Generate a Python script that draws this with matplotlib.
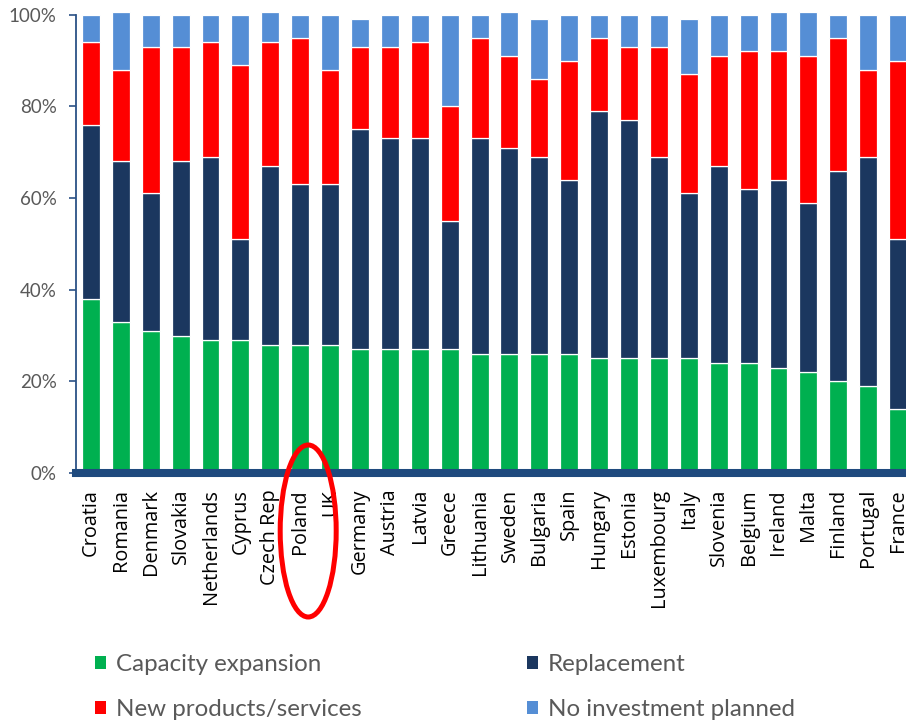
import matplotlib
matplotlib.use("Agg")
import matplotlib.pyplot as plt
from matplotlib.patches import Patch, Ellipse
from matplotlib.transforms import IdentityTransform
from matplotlib.ticker import FuncFormatter
import numpy as np

countries = ["Croatia", "Romania", "Denmark", "Slovakia", "Netherlands", "Cyprus",
             "Czech Rep", "Poland", "UK", "Germany", "Austria", "Latvia", "Greece",
             "Lithuania", "Sweden", "Bulgaria", "Spain", "Hungary", "Estonia",
             "Luxembourg", "Italy", "Slovenia", "Belgium", "Ireland", "Malta",
             "Finland", "Portugal", "France"]

capacity_expansion = [38, 33, 31, 30, 29, 29, 28, 28, 28, 27, 27, 27, 27,
                      26, 26, 26, 26, 25, 25, 25, 25, 24, 24, 23, 22, 20, 19, 14]
replacement = [38, 35, 30, 38, 40, 22, 39, 35, 35, 48, 46, 46, 28,
               47, 45, 43, 38, 54, 52, 44, 36, 43, 38, 41, 37, 46, 50, 37]
new_products = [18, 20, 32, 25, 25, 38, 27, 32, 25, 18, 20, 21, 25,
                22, 20, 17, 26, 16, 16, 24, 26, 24, 30, 28, 32, 29, 19, 39]
no_investment = [6, 12.5, 7, 7, 6, 11, 6.5, 5, 12, 6, 7, 6, 20,
                 5, 9.5, 13, 10, 5, 7, 7, 12, 9, 8, 8.5, 9.5, 5, 12, 10]

series_labels = ["Capacity expansion", "Replacement",
                 "New products/services", "No investment planned"]
series_colors = ["#00B050", "#1B375F", "#FF0000", "#558ED5"]
highlight = "Poland"

axis_blue = "#1F4A7E"
grey = "#595959"

W, H = 906, 722
fig = plt.figure(figsize=(W / 100, H / 100), dpi=100)
ax = fig.add_axes([76 / W, 249 / H, 837 / W, 458.3 / H])

x = np.arange(len(countries))
series = [capacity_expansion, replacement, new_products, no_investment]
bottom = np.zeros(len(countries))
for vals, col, lab in zip(series, series_colors, series_labels):
    v = np.array(vals, dtype=float) / 100.0
    ax.bar(x, v, bottom=bottom, width=0.6, color=col, edgecolor="white",
           linewidth=0.9, label=lab, clip_on=False)
    bottom += v

ax.set_xlim(-0.5, len(countries) - 0.5)
ax.set_ylim(0, 1.0)
ax.set_yticks(np.arange(0, 1.01, 0.2))
ax.yaxis.set_major_formatter(FuncFormatter(lambda v, p: f"{v * 100:.0f}%"))

for s in ("top", "right"):
    ax.spines[s].set_visible(False)
ax.spines["left"].set_color("#2B5286")
ax.spines["left"].set_linewidth(1.3)
ax.spines["bottom"].set_color(axis_blue)
ax.spines["bottom"].set_linewidth(5.8)

ax.tick_params(axis="y", direction="out", length=5, width=1.2,
               color="#2B5286", pad=9, labelcolor=grey)
for t in ax.get_yticklabels():
    t.set_fontfamily(["Lato", "DejaVu Sans"])
    t.set_fontsize(13.5)

ax.set_xticks(x)
ax.set_xticklabels(countries, rotation=90, fontsize=14.3,
                   fontfamily=["Open Sans", "DejaVu Sans"], color="black")
ax.tick_params(axis="x", length=0, pad=11.5)

# Legend in two columns, each drawn as its own legend block
handles = [Patch(facecolor=c, edgecolor="none") for c in series_colors]
common = dict(frameon=False, handlelength=0.46, handleheight=0.44,
              handletextpad=0.4, labelspacing=0.98, borderpad=0, borderaxespad=0,
              loc="center left", prop={"family": ["Lato", "DejaVu Sans"], "size": 17.4})
leg1 = fig.legend([handles[0], handles[2]], [series_labels[0], series_labels[2]],
                  bbox_to_anchor=(95 / W, 1 - 687 / H), **common)
leg2 = fig.legend([handles[1], handles[3]], [series_labels[1], series_labels[3]],
                  bbox_to_anchor=(527 / W, 1 - 687 / H), **common)
for leg in (leg1, leg2):
    for t in leg.get_texts():
        t.set_color(grey)

# Red ring around the highlighted country label
idx = countries.index(highlight)
cx = ax.transData.transform((idx, 0))[0] + 8
ring = Ellipse((cx, H - 531), 56, 172, fill=False, edgecolor="#FF0000",
               linewidth=3.6, transform=IdentityTransform(), clip_on=False)
fig.add_artist(ring)

fig.savefig("out.png", dpi=100, facecolor="white")
